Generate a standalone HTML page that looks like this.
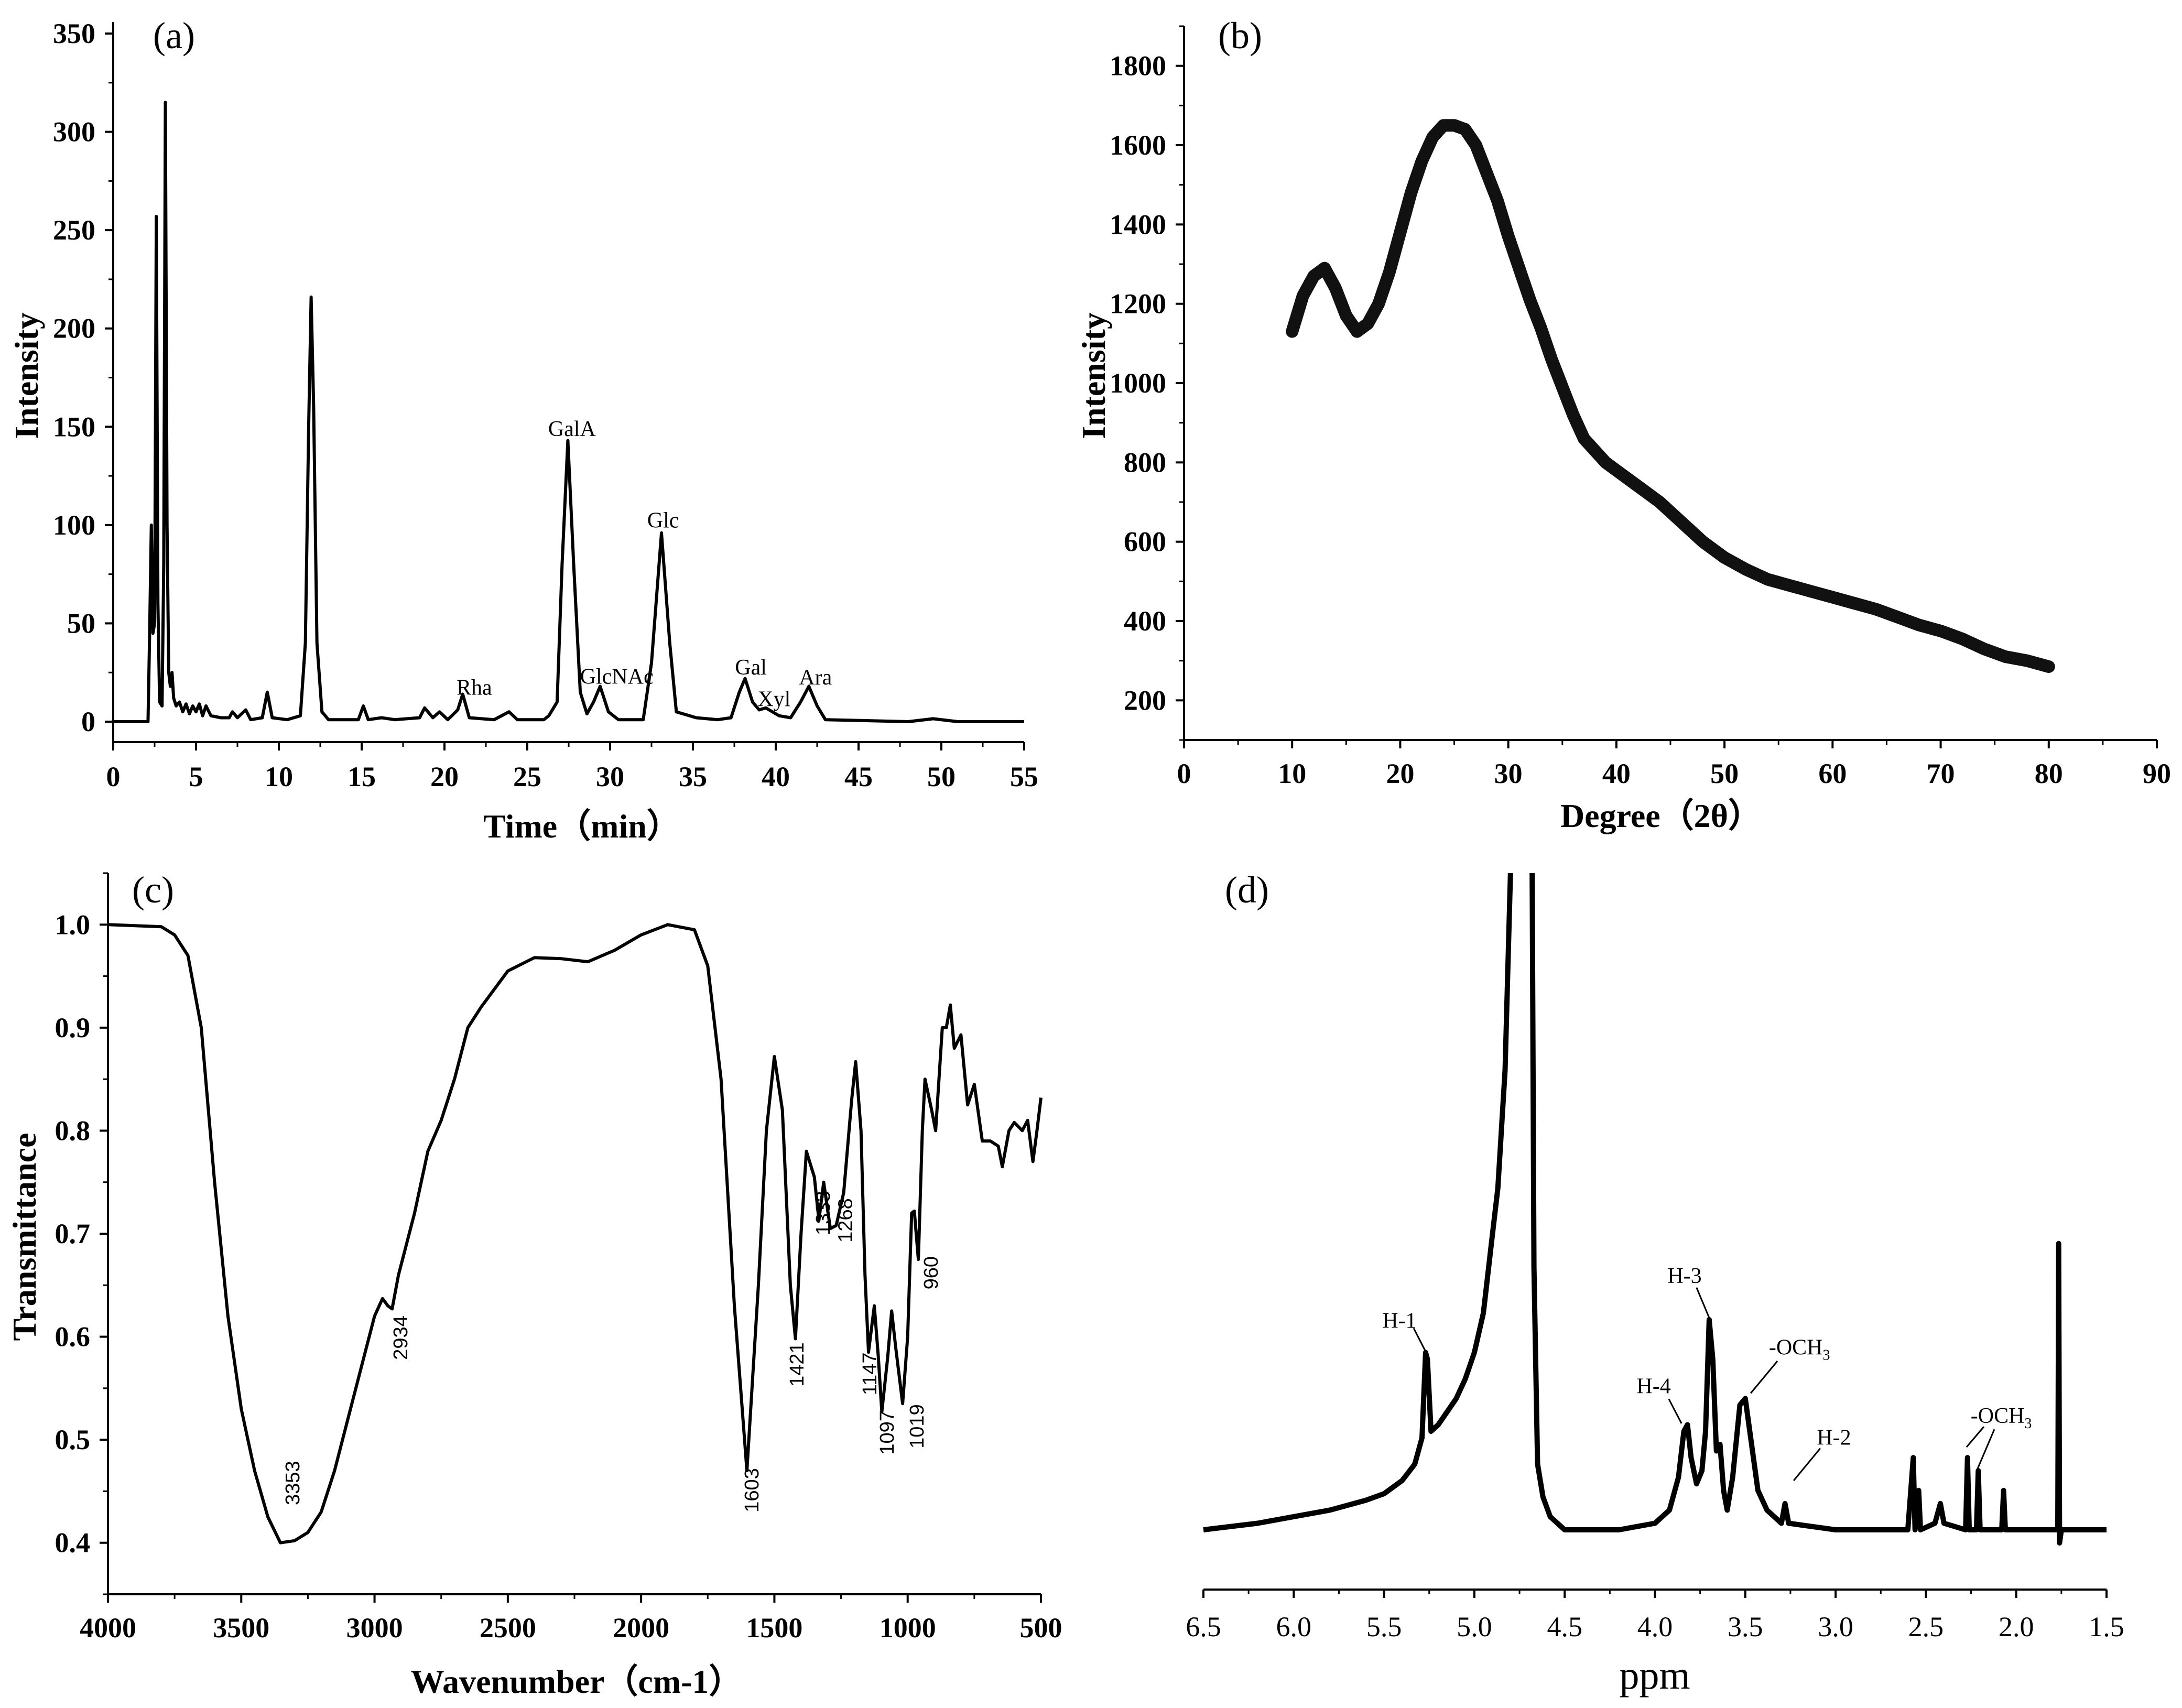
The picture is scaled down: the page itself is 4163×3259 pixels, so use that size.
<!DOCTYPE html>
<html><head><meta charset="utf-8"><title>Polysaccharide characterization</title>
<style>
html,body{margin:0;padding:0;background:#fff;}
svg{display:block;}
.tk{font-family:"Liberation Serif",serif;font-weight:bold;font-size:54px;fill:#000;}
.tkd{font-family:"Liberation Serif",serif;font-size:54px;fill:#000;}
.ttl{font-family:"Liberation Serif",serif;font-weight:bold;font-size:64px;fill:#000;}
.pl{font-family:"Liberation Serif",serif;font-size:72px;fill:#000;}
.ann{font-family:"Liberation Serif",serif;font-size:42px;fill:#000;}
.irl{font-family:"Liberation Sans",sans-serif;font-size:38px;fill:#000;}
.ppm{font-family:"Liberation Serif",serif;font-size:76px;fill:#000;}
</style></head>
<body>
<svg id="fig" xmlns="http://www.w3.org/2000/svg" width="4163" height="3259" viewBox="0 0 4163 3259">
<rect width="4163" height="3259" fill="#fff"/>
<defs><clipPath id="clipD"><rect x="2200" y="1666" width="1900" height="1360"/></clipPath></defs>
</svg>
<script>
// ---------- Panel (a) HPLC chromatogram ----------
const hplcTime=[0,2.1,2.2,2.3,2.4,2.5,2.6,2.7,2.8,2.95,3.05,3.15,3.25,3.35,3.45,3.55,3.65,3.8,4.0,4.2,4.4,4.6,4.8,5.0,5.2,5.4,5.6,5.9,6.5,7.0,7.2,7.5,8.0,8.3,9.0,9.3,9.6,10.5,11.3,11.6,11.8,11.95,12.1,12.3,12.6,13.0,14.8,15.1,15.4,16.2,17,18.5,18.8,19.3,19.7,20.2,20.8,21.1,21.5,23,23.9,24.4,26,26.3,26.8,27.1,27.45,27.8,28.2,28.6,29.0,29.4,29.9,30.5,32,32.5,33.1,33.6,34,35.2,36.5,37.3,37.8,38.15,38.6,39.0,39.4,40.2,40.9,41.5,42.0,42.5,43,48,49.5,51,55];
const hplcIntensity=[0,0,45,100,45,50,257,60,10,8,80,315,100,25,18,25,12,8,10,5,9,4,8,5,9,3,8,3,2,2,5,2,6,1,2,15,2,1,3,40,150,216,160,40,5,1,1,8,1,2,1,2,7,2,5,1,6,14,2,1,5,1,1,3,10,80,143,80,15,4,10,18,5,1,1,30,96,40,5,2,1,2,15,22,10,6,7,3,2,10,18,8,1,0,1.5,0,0];
const hplcLabels=["Rha","GalA","GlcNAc","Glc","Gal","Xyl","Ara"];
const hplcLabelTime=[21.8,27.7,30.4,33.2,38.5,39.9,42.4];
const hplcLabelY=[17.5,149,23,102.5,27.7,11.6,22.7];
const aXTicks=[0,5,10,15,20,25,30,35,40,45,50,55];
const aYTicks=[0,50,100,150,200,250,300,350];

// ---------- Panel (b) XRD ----------
const xrdDegree=[10,11,12,13,14,15,16,17,18,19,20,21,22,23,24,25,26,27,28,29,30,31,32,33,34,35,36,37,38,39,40,42,44,46,48,50,52,54,56,58,60,62,64,66,68,70,72,74,76,78,80];
const xrdIntensity=[1130,1220,1270,1290,1240,1170,1130,1150,1200,1280,1380,1480,1560,1620,1650,1650,1640,1600,1530,1460,1370,1290,1210,1140,1060,990,920,860,830,800,780,740,700,650,600,560,530,505,490,475,460,445,430,410,390,375,355,330,310,300,285];
const bXTicks=[0,10,20,30,40,50,60,70,80,90];
const bYTicks=[200,400,600,800,1000,1200,1400,1600,1800];

// ---------- Panel (c) FTIR ----------
const irWavenumber=[4000,3800,3750,3700,3650,3600,3550,3500,3450,3400,3353,3300,3250,3200,3150,3100,3050,3000,2970,2950,2934,2910,2850,2800,2750,2700,2650,2600,2500,2400,2300,2200,2100,2000,1900,1800,1750,1700,1650,1603,1560,1530,1500,1470,1440,1421,1400,1380,1350,1333,1315,1290,1268,1240,1210,1195,1175,1160,1147,1125,1110,1097,1075,1060,1045,1019,1000,985,975,960,945,935,910,895,870,855,840,825,800,775,750,720,690,660,645,620,600,570,550,530,515,500];
const irTransmittance=[1.0,0.998,0.99,0.97,0.90,0.75,0.62,0.53,0.47,0.425,0.40,0.402,0.41,0.43,0.47,0.52,0.57,0.62,0.637,0.63,0.627,0.66,0.72,0.78,0.81,0.85,0.90,0.92,0.955,0.968,0.967,0.964,0.975,0.99,1.0,0.995,0.96,0.85,0.63,0.47,0.65,0.8,0.872,0.82,0.65,0.598,0.7,0.78,0.755,0.713,0.75,0.705,0.708,0.74,0.83,0.867,0.8,0.66,0.585,0.63,0.58,0.527,0.58,0.625,0.59,0.535,0.6,0.72,0.722,0.675,0.8,0.85,0.82,0.8,0.9,0.9,0.922,0.88,0.893,0.825,0.845,0.79,0.79,0.785,0.765,0.8,0.808,0.8,0.81,0.77,0.8,0.832];
const irLabels=["3353","2934","1603","1421","1333","1268","1147","1097","1019","960"];
const irLabelWn=[3310,2905,1587,1418,1320,1236,1145,1080,968,915];
const irLabelT=[0.458,0.599,0.451,0.573,0.72,0.713,0.564,0.507,0.513,0.662];
const cXTicks=[4000,3500,3000,2500,2000,1500,1000,500];
const cYTicks=[0.4,0.5,0.6,0.7,0.8,0.9,1.0];

// ---------- Panel (d) 1H NMR ----------
const nmrPpm=[6.5,6.2,6.0,5.8,5.6,5.5,5.4,5.33,5.29,5.27,5.26,5.24,5.2,5.15,5.1,5.05,5.0,4.95,4.9,4.87,4.83,4.8,4.78,4.7,4.68,4.67,4.65,4.62,4.58,4.5,4.2,4.0,3.92,3.87,3.84,3.82,3.8,3.77,3.74,3.72,3.70,3.68,3.66,3.64,3.62,3.6,3.57,3.53,3.5,3.47,3.43,3.38,3.3,3.28,3.26,3.0,2.6,2.57,2.56,2.54,2.53,2.45,2.42,2.4,2.28,2.27,2.26,2.22,2.21,2.2,2.08,2.07,2.06,1.77,1.765,1.76,1.75,1.5];
const nmrIntensity=[0,1,2,3,4.5,5.5,7.5,10,14,27,26,15,16,18,20,23,27,33,45,52,70,100,140,150,100,40,10,5,2,0,0,1,3,8,15,16,11,7,9,15,32,26,12,13,6,3,8,19,20,14,6,3,1,4,1,0,0,11,0,6,0,1,4,1,0,11,0,0,9,0,0,6,0,0,43.6,-2,0,0];
const nmrLabels=["H-1","H-3","H-4","-OCH","H-2","-OCH"];
const nmrLabelPpm=[5.415,3.836,4.007,3.2,3.009,2.083];
const nmrLabelY=[31.9,38.7,21.9,27.8,14.1,17.4];
const nmrLeaderPpm1=[5.336,3.77,3.923,3.322,3.085,2.179];
const nmrLeaderY1=[30.7,36.9,19.9,25.7,12.4,15.7];
const nmrLeaderPpm2=[5.267,3.694,3.853,3.47,3.232,2.275];
const nmrLeaderY2=[27.0,31.9,16.2,20.8,7.5,12.6];
const dXTicks=[6.5,6.0,5.5,5.0,4.5,4.0,3.5,3.0,2.5,2.0,1.5];

const NS="http://www.w3.org/2000/svg";
const svg=document.getElementById('fig');
function mk(tag,attrs,parent){const e=document.createElementNS(NS,tag);for(const k in attrs)e.setAttribute(k,attrs[k]);(parent||svg).appendChild(e);return e;}
function grp(){return mk('g',{});}

const ax=t=>216+t*(1954-216)/55, ay=v=>1377-v*(1377-64)/350;
const bx=d=>2259+d*(4115-2259)/90, by=v=>1412-(v-100)*(1412-50)/1800;
const cx=w=>206+(4000-w)*(1986-206)/3500, cy=v=>3042-(v-0.35)*(3042-1666)/0.7;
const dx=p=>2296+(6.5-p)*344.6, dy=v=>2919-v*12.53;

function pathFrom(xs,ys,fx,fy){return xs.map((x,i)=>(i?'L':'M')+fx(x).toFixed(1)+' '+fy(ys[i]).toFixed(1)).join(' ');}

function frame(g,x0,x1,yTop,yBot){
  const l=mk('line',{x1:x0,y1:yTop,x2:x0,y2:yBot,stroke:'#000','stroke-width':4},g);
  
  
  const b=mk('line',{x1:x0-2,y1:yBot,x2:x1,y2:yBot,stroke:'#000','stroke-width':4},g);
  
  
}
function xTicks(g,ticks,fx,yBot,labY,cls,fmt){
  ticks.forEach((t,i)=>{
    const l=mk('line',{x1:fx(t),y1:yBot,x2:fx(t),y2:yBot+16,stroke:'#000','stroke-width':4},g);
    
    
    const tx=mk('text',{x:fx(t),y:labY,'text-anchor':'middle',class:cls},g);
    tx.textContent=fmt(t);
    
    
    if(i<ticks.length-1){const m=(t+ticks[i+1])/2;
      const ml=mk('line',{x1:fx(m),y1:yBot,x2:fx(m),y2:yBot+9,stroke:'#000','stroke-width':3},g);
      
      }
  });
}
function yTicks(g,ticks,fy,x0,cls,fmt,lo,hi){
  ticks.forEach((t)=>{
    const l=mk('line',{x1:x0-16,y1:fy(t),x2:x0,y2:fy(t),stroke:'#000','stroke-width':4},g);
    
    
    const tx=mk('text',{x:x0-34,y:fy(t)+18,'text-anchor':'end',class:cls},g);
    tx.textContent=fmt(t);
    
    
  });
  const step=(ticks[1]-ticks[0])/2;
  for(let v=ticks[0]-step;v<=ticks[ticks.length-1]+step+1e-9;v+=step){
    if(v<lo-1e-9||v>hi+1e-9)continue;
    const ml=mk('line',{x1:x0-9,y1:fy(v),x2:x0,y2:fy(v),stroke:'#000','stroke-width':3},g);
    
    
  }
}
function txt(g,s,x,y,cls,name,rot){
  const t=mk('text',{x:x,y:y,class:cls,'text-anchor':'middle'},g);
  if(rot)t.setAttribute('transform','rotate(-90 '+x+' '+y+')');
  t.textContent=s;
  
  
  return t;
}

// ---- Panel A ----
const gA=grp();


frame(gA,216,1954,42,1416);
xTicks(gA,aXTicks,ax,1416,1500,'tk',t=>String(t));
yTicks(gA,aYTicks,ay,216,'tk',t=>String(t),-10,350);
const pA=mk('path',{d:pathFrom(hplcTime,hplcIntensity,ax,ay),fill:'none',stroke:'#000','stroke-width':6,'stroke-linejoin':'round'},gA);


hplcLabels.forEach((s,i)=>{txt(gA,s,ax(hplcLabelTime[i]),ay(hplcLabelY[i])+14,'ann','peak-label');});
txt(gA,'Intensity',72,717,'ttl','y-axis-title',true);
txt(gA,'Time（min）',1110,1598,'ttl','x-axis-title');
txt(gA,'(a)',332,92,'pl','panel-label-a');

// ---- Panel B ----
const gB=grp();


frame(gB,2259,4115,50,1412);
xTicks(gB,bXTicks,bx,1412,1494,'tk',t=>String(t));
yTicks(gB,bYTicks,by,2259,'tk',t=>String(t),100,1900);
const pB=mk('path',{d:pathFrom(xrdDegree,xrdIntensity,bx,by),fill:'none',stroke:'#111','stroke-width':24,'stroke-linejoin':'round','stroke-linecap':'round'},gB);


txt(gB,'Intensity',2108,717,'ttl','y-axis-title',true);
txt(gB,'Degree（2θ）',3169,1578,'ttl','x-axis-title');
txt(gB,'(b)',2366,92,'pl','panel-label-b');

// ---- Panel C ----
const gC=grp();


frame(gC,206,1986,1666,3042);
xTicks(gC,cXTicks,cx,3042,3124,'tk',t=>String(t));
yTicks(gC,cYTicks,cy,206,'tk',t=>t.toFixed(1),0.35,1.05);
const pC=mk('path',{d:pathFrom(irWavenumber,irTransmittance,cx,cy),fill:'none',stroke:'#000','stroke-width':6,'stroke-linejoin':'round'},gC);


irLabels.forEach((s,i)=>{txt(gC,s,cx(irLabelWn[i])+14,cy(irLabelT[i]),'irl','band-label',true);});
txt(gC,'Transmittance',68,2360,'ttl','y-axis-title',true);
txt(gC,'Wavenumber（cm-1）',1100,3230,'ttl','x-axis-title');
txt(gC,'(c)',292,1722,'pl','panel-label-c');

// ---- Panel D ----
const gD=grp();


const axD=mk('line',{x1:dx(6.5),y1:3033,x2:dx(1.5),y2:3033,stroke:'#000','stroke-width':4},gD);


xTicks(gD,dXTicks,dx,3033,3122,'tkd',t=>t.toFixed(1));
const pD=mk('path',{d:pathFrom(nmrPpm,nmrIntensity,dx,dy),fill:'none',stroke:'#000','stroke-width':10,'stroke-linejoin':'round','clip-path':'url(#clipD)'},gD);


nmrLabels.forEach((s,i)=>{
  const t=txt(gD,s,dx(nmrLabelPpm[i]),dy(nmrLabelY[i])+14,'ann','peak-label');
  if(s==='-OCH'){const sub=document.createElementNS(NS,'tspan');sub.setAttribute('style','font-size:28px');sub.setAttribute('dy','10');sub.textContent='3';t.appendChild(sub);}
  const l=mk('line',{x1:dx(nmrLeaderPpm1[i]),y1:dy(nmrLeaderY1[i]),x2:dx(nmrLeaderPpm2[i]),y2:dy(nmrLeaderY2[i]),stroke:'#000','stroke-width':3},gD);
  
  
});
const l2=mk('line',{x1:dx(2.121),y1:dy(15.3),x2:dx(2.217),y2:dy(9.1),stroke:'#000','stroke-width':3},gD);


txt(gD,'ppm',3157,3222,'ppm','x-axis-title');
txt(gD,'(d)',2379,1722,'pl','panel-label-d');
</script>
</body></html>
